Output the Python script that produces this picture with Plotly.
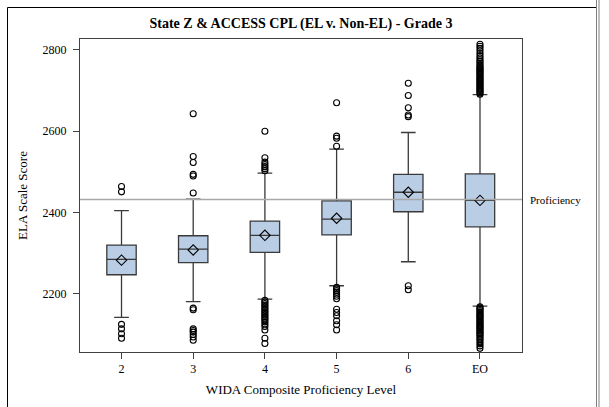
import plotly.graph_objects as go

# WIDA composite proficiency levels (plus English-only students)
levels = ["2", "3", "4", "5", "6", "EO"]

# Box summary statistics of ELA scale score per level
lower_fence = [2142, 2181, 2187, 2220, 2279, 2170]
q1 = [2247, 2277, 2302, 2345, 2402, 2365]
median = [2285, 2310, 2344, 2384, 2450, 2430]
q3 = [2320, 2343, 2379, 2429, 2494, 2495]
upper_fence = [2405, 2433, 2497, 2556, 2597, 2690]
mean = [2283, 2308, 2344, 2386, 2450, 2430]

# Outlying scores per level
outliers_2 = [2464, 2451, 2125, 2114, 2102, 2091]
outliers_3 = [2643, 2538, 2523, 2494, 2490, 2448,
              2165, 2161, 2114, 2110, 2106, 2100, 2094, 2086]
outliers_4 = [2600, 2535, 2524, 2518, 2513, 2508, 2503,
              2184, 2180, 2176, 2172, 2168, 2164, 2160, 2156, 2152,
              2148, 2144, 2140, 2136, 2131, 2126, 2120, 2111, 2091, 2078]
outliers_5 = [2670, 2588, 2583, 2563,
              2216, 2212, 2208, 2204, 2199, 2194, 2188,
              2162, 2154, 2146, 2134, 2124, 2111]
outliers_6 = [2718, 2688, 2658, 2640, 2636, 2220, 2210]
outliers_eo = [2814, 2809, 2804, 2798, 2792, 2786, 2781, 2776, 2772, 2768,
               2764, 2760, 2757, 2754, 2751, 2748, 2745, 2742, 2739, 2736,
               2733, 2730, 2727, 2724, 2721, 2718, 2715, 2712, 2709, 2706,
               2703, 2700, 2697, 2694, 2691,
               2168, 2165, 2162, 2159, 2156, 2153, 2150, 2147, 2144, 2141,
               2138, 2135, 2132, 2129, 2126, 2123, 2120, 2117, 2114, 2111,
               2108, 2105, 2102, 2099, 2095, 2091, 2087, 2082, 2077, 2072,
               2066]
outliers = [outliers_2, outliers_3, outliers_4, outliers_5, outliers_6, outliers_eo]

proficiency_cut = 2432
y_ticks = [2200, 2400, 2600, 2800]

FONT = "Liberation Serif, Times New Roman, serif"
W, H = 609, 407
ML, MR, MT, MB = 80, 87, 39, 55
PW, PH = W - ML - MR, H - MT - MB


def px(x):
    return (x - ML) / PW


def py(y):
    return (H - MB - y) / PH


fig = go.Figure()

fig.add_trace(go.Box(
    x=levels,
    lowerfence=lower_fence, q1=q1, median=median, q3=q3,
    upperfence=upper_fence,
    boxpoints=False,
    fillcolor="#B9CDE5",
    line=dict(color="#3a3a3a", width=1.3),
    whiskerwidth=0.5,
    width=0.41,
    showlegend=False,
    hoverinfo="skip",
))

ox, oy = [], []
for lvl, vals in zip(levels, outliers):
    ox += [lvl] * len(vals)
    oy += vals
fig.add_trace(go.Scatter(
    x=ox, y=oy, mode="markers",
    marker=dict(symbol="circle-open", size=6, color="black",
                line=dict(width=1.1, color="black")),
    showlegend=False, hoverinfo="skip",
))

fig.add_trace(go.Scatter(
    x=levels, y=mean, mode="markers",
    marker=dict(symbol="diamond-open", size=8, color="black",
                line=dict(width=1.1, color="black")),
    showlegend=False, hoverinfo="skip",
))

shapes = [
    # proficiency reference line
    dict(type="line", xref="paper", yref="y", x0=0, x1=1,
         y0=proficiency_cut, y1=proficiency_cut,
         line=dict(color="#A8A8A8", width=1.5), layer="above"),
    # outer frame
    dict(type="line", xref="paper", yref="paper", x0=px(7.5), x1=px(7.5),
         y0=py(7.5), y1=py(410), line=dict(color="black", width=1)),
    dict(type="line", xref="paper", yref="paper", x0=px(7.5), x1=px(597),
         y0=py(7.5), y1=py(7.5), line=dict(color="black", width=1)),
    dict(type="line", xref="paper", yref="paper", x0=px(596.5), x1=px(596.5),
         y0=py(-2), y1=py(410), line=dict(color="#808080", width=1)),
    dict(type="line", xref="paper", yref="paper", x0=px(599), x1=px(599),
         y0=py(-2), y1=py(410), line=dict(color="#808080", width=1)),
]

fig.update_layout(
    width=W, height=H,
    margin=dict(l=ML, r=MR, t=MT, b=MB, pad=0),
    paper_bgcolor="white", plot_bgcolor="white",
    font=dict(family=FONT, color="black", size=12),
    title=dict(text="<b>State Z & ACCESS CPL (EL v. Non-EL) - Grade 3</b>",
               x=px(301), xref="paper", xanchor="center",
               y=1 - 23 / H, yanchor="middle", font=dict(size=14, family=FONT)),
    shapes=shapes,
    annotations=[dict(text="Proficiency", xref="paper", yref="y",
                      x=px(528), y=proficiency_cut, xanchor="left",
                      yanchor="middle", showarrow=False,
                      font=dict(size=11, family=FONT))],
    showlegend=False,
)

fig.update_xaxes(
    type="category", categoryorder="array", categoryarray=levels,
    range=[-0.579, 5.586],
    showline=True, linecolor="#404040", linewidth=1, mirror=True,
    ticks="outside", ticklen=6, tickcolor="#404040",
    showgrid=False, zeroline=False,
    title=dict(text="WIDA Composite Proficiency Level", standoff=9,
               font=dict(size=13, family=FONT)),
    tickfont=dict(size=12, family=FONT),
)
fig.update_yaxes(
    range=[2057, 2827], tickvals=y_ticks,
    showline=True, linecolor="#404040", linewidth=1, mirror=True,
    ticks="outside", ticklen=6, tickcolor="#404040",
    ticklabelstandoff=4,
    showgrid=False, zeroline=False,
    title=dict(text="ELA Scale Score", standoff=12,
               font=dict(size=13, family=FONT)),
    tickfont=dict(size=12, family=FONT),
)

fig.write_html("out.html")
